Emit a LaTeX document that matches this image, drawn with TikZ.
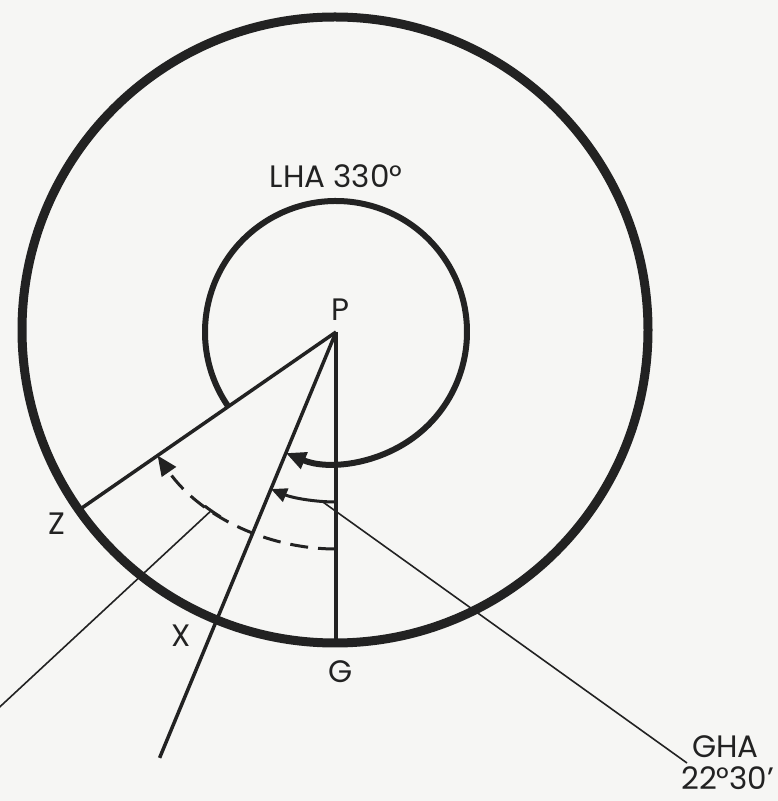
\documentclass[tikz,border=0pt]{standalone}
\usepackage{fontspec}
\setmainfont{Poppins}
\usetikzlibrary{arrows.meta,calc}
\definecolor{ink}{RGB}{34,34,34}
\definecolor{paper}{RGB}{246,246,244}
\begin{document}
\begin{tikzpicture}[x=1pt,y=1pt,
  lbl/.style={font=\fontsize{31}{36}\selectfont, text=ink, inner sep=0pt},
  outerring/.style={draw=ink, line width=9pt},
  innerring/.style={draw=ink, line width=6pt},
  ray/.style={draw=ink, line width=3.5pt},
  thinline/.style={draw=ink, line width=1.6pt},
  dashedarc/.style={draw=ink, line width=3pt, dash pattern=on 18pt off 10pt},
  bigtip/.style={-{Triangle[length=20pt,width=17pt]}},
  smalltip/.style={-{Triangle[length=16pt,width=14pt]}}]
\fill[paper] (0,0) rectangle (778,801);
\useasboundingbox (0,0) rectangle (778,801);
% centres and ends
\coordinate (P) at (336,469);
\coordinate (O) at (335,471);
\coordinate (Z) at ($(P)+(214.7:313)$);
\coordinate (X) at ($(P)+(247.5:461)$);
\coordinate (G) at (336,158);
% outer ring
\draw[outerring] (O) circle[radius=313];
% rays from the pole
\draw[ray] (P) -- (Z);
\draw[ray] (P) -- (X);
\draw[ray] (P) -- (G);
% LHA arc (inner ring)
\coordinate (Ls) at ($(P)+(214.7:131)$);
\draw[innerring, bigtip] (Ls) arc[start angle=214.7, end angle=-112.5, radius=131];
% GHA arc
\coordinate (Gs) at ($(P)+(270:170)$);
\draw[ray, line width=3pt, smalltip] (Gs) arc[start angle=270, end angle=247.5, radius=170];
% dashed longitude arc
\coordinate (Ds) at ($(P)+(270:217)$);
\draw[dashedarc, bigtip] (Ds) arc[start angle=270, end angle=214.7, radius=217];
\coordinate (Ts) at ($(P)+(233:218)$);
\draw[ink, line width=3pt] (Ts) arc[start angle=233, end angle=238, radius=218];
% leaders
\coordinate (Lend) at ($(P)+(235:219)$);
\coordinate (Lfar) at (-10,85);
\draw[thinline] (Lend) -- (Lfar);
\coordinate (Gh) at ($(P)+(265.3:170)$);
\coordinate (GHAtip) at (687,38);
\draw[thinline] (Gh) -- (GHAtip);
% labels
\node[lbl] (lha) at (336,625) {LHA 330°};
\node[lbl] (plab) at (340,491) {P};
\node[lbl] (zlab) at (57,277) {Z};
\node[lbl] (xlab) at (181,165) {X};
\node[lbl] (glab) at (341,129) {G};
\node[lbl, anchor=west] (gha) at (692,54) {GHA};
\node[lbl, anchor=west] (ghaval) at (681,23) {22°30'};
\end{tikzpicture}
\end{document}
